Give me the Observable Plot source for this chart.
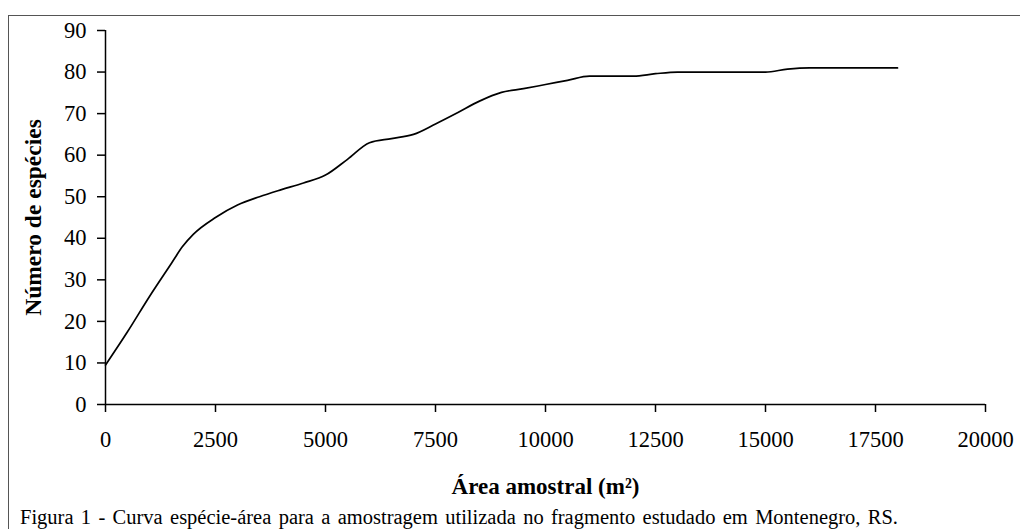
<!DOCTYPE html>
<html>
<head>
<meta charset="utf-8">
<script src="https://cdn.jsdelivr.net/npm/d3@7"></script>
<script src="https://cdn.jsdelivr.net/npm/@observablehq/plot@0.6"></script>
<style>
  html, body { margin: 0; padding: 0; background: #fff; overflow: hidden; }
  #wrap { position: relative; width: 1020px; height: 529px; font-family: "Liberation Serif", "Times New Roman", serif; }
  #frame { position: absolute; left: 8px; top: 15px; width: 1030px; height: 530px; border-top: 1.5px solid #555; border-left: 1.5px solid #555; }
  #chart { position: absolute; left: 0; top: 0; }
  #caption { position: absolute; left: 20px; top: 507px; font-size: 20.5px; line-height: 1; white-space: nowrap; color: #000; }
</style>
</head>
<body>
<div id="wrap">
  <div id="frame"></div>
  <div id="chart"></div>
  <div id="caption">Figura 1 - Curva espécie-área para a amostragem utilizada no fragmento estudado em Montenegro, RS.</div>
</div>
<script>
const area = [0, 500, 1000, 1500, 1750, 2000, 2500, 3000, 3500, 4000, 4500, 5000, 5500, 6000, 6500, 7000, 7500, 8000, 8500, 9000, 9500, 10000, 10500, 11000, 11500, 12000, 12500, 13000, 13500, 14000, 14500, 15000, 15500, 16000, 16500, 17000, 17500, 18000];
const species = [9.5, 17.5, 26, 34, 38, 41, 45, 48, 50, 51.7, 53.3, 55.2, 59, 63, 64, 65, 67.5, 70.2, 73, 75.1, 76, 77, 78, 79, 79, 79, 79.6, 80, 80, 80, 80, 80, 80.7, 81, 81, 81, 81, 81];
const xTicks = [0, 2500, 5000, 7500, 10000, 12500, 15000, 17500, 20000];
const yTicks = [0, 10, 20, 30, 40, 50, 60, 70, 80, 90];
const xTitle = "Área amostral (m²)";
const yTitle = "Número de espécies";

const data = area.map((a, i) => ({area: a, species: species[i]}));

const plot = Plot.plot({
  width: 1020,
  height: 500,
  marginLeft: 105,
  marginRight: 35,
  marginTop: 30,
  marginBottom: 96,
  style: {fontFamily: "'Liberation Serif', 'Times New Roman', serif", fontSize: "22px", color: "#000", background: "transparent"},
  x: {domain: [0, 20000]},
  y: {domain: [0, 90]},
  marks: [
    Plot.axisX({ticks: xTicks, tickSize: 8, tickPadding: 19, label: null, tickFormat: d => String(d), strokeWidth: 1.5, fontSize: 22.5}),
    Plot.axisY({ticks: yTicks, tickSize: 8, tickPadding: 11, label: null, tickFormat: d => String(d), strokeWidth: 1.5, fontSize: 22.5}),
    Plot.ruleX([0], {stroke: "#000", strokeWidth: 1.5}),
    Plot.ruleY([0], {stroke: "#000", strokeWidth: 1.5}),
    Plot.line(data, {x: "area", y: "species", stroke: "#000", strokeWidth: 1.7, curve: "monotone-x"}),
    Plot.text([xTitle], {text: d => d, frameAnchor: "bottom", textAnchor: "middle", dy: 89, fontWeight: "bold", fontSize: 23, fill: "#000"}),
    Plot.text([yTitle], {text: d => d, frameAnchor: "left", textAnchor: "middle", dx: -72, rotate: -90, fontWeight: "bold", fontSize: 23.5, fill: "#000"})
  ]
});
document.getElementById("chart").appendChild(plot);

// fit caption word spacing to the reference width
const cap = document.getElementById("caption");
const target = 878;
const words = cap.textContent.split(" ").length - 1;
const w = cap.getBoundingClientRect().width;
if (words > 0) cap.style.wordSpacing = ((target - w) / words) + "px";
</script>
</body>
</html>
